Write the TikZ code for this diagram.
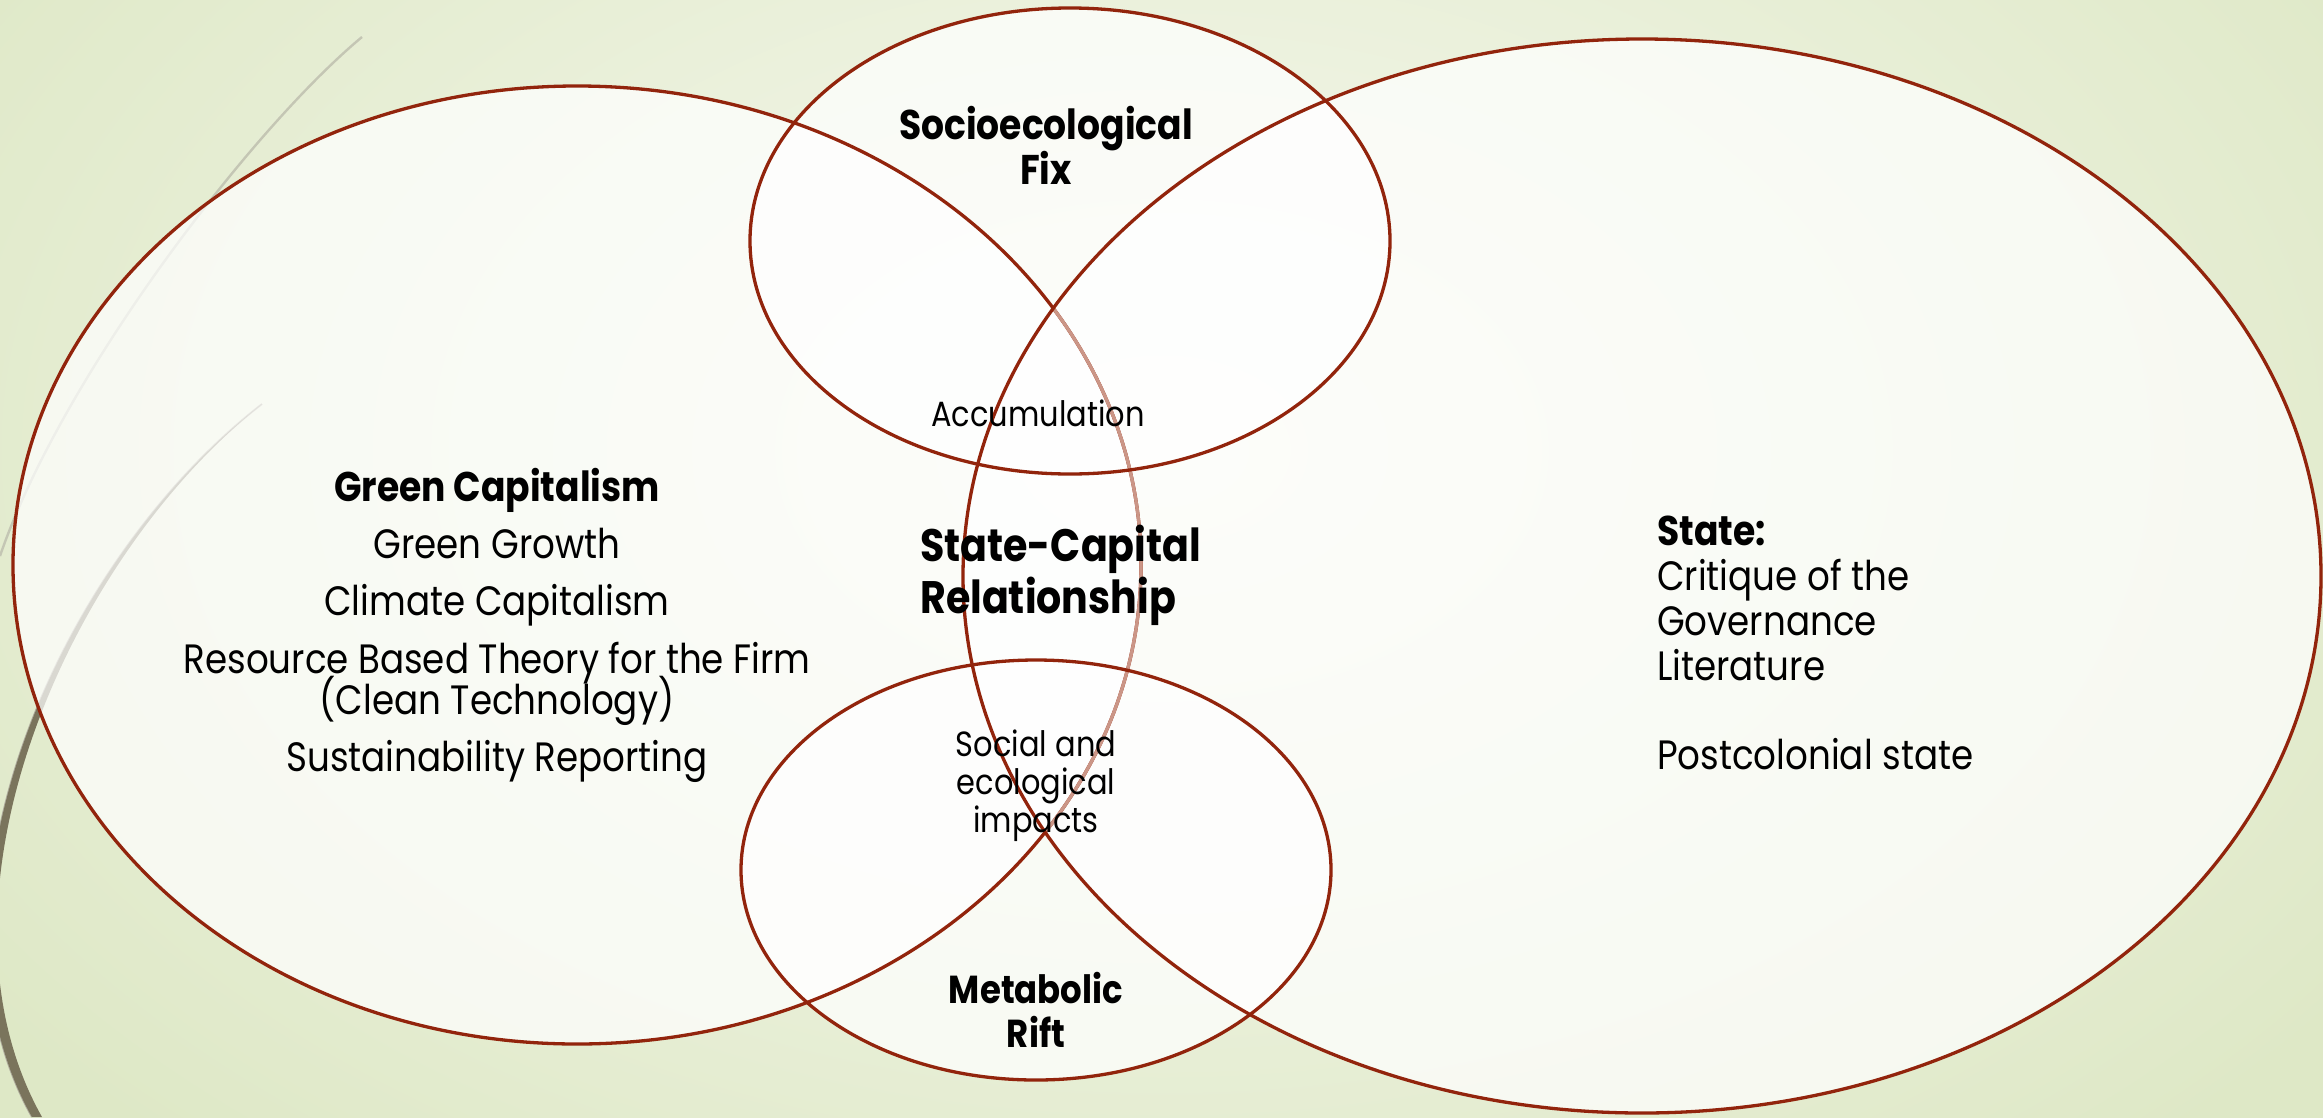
\documentclass[tikz,border=0pt]{standalone}
\usepackage{fontspec}
\setmainfont{Poppins}[FakeStretch=0.87]
\definecolor{edge}{RGB}{146,36,12}
\definecolor{edgelight}{RGB}{203,150,135}
\definecolor{bgin}{RGB}{247,249,240}
\definecolor{bgout}{RGB}{222,232,198}
\definecolor{wispfaint}{RGB}{196,198,180}
\definecolor{wispdark}{RGB}{122,116,92}
\tikzset{
  ring/.style={draw=edge, line width=3.3pt},
  ringfill/.style={fill=white, fill opacity=0.72},
  txt/.style={inner sep=0pt, anchor=base, text=black},
  txtw/.style={inner sep=0pt, anchor=base west, text=black},
  fbig/.style={font=\fontsize{41}{48}\selectfont},
  fmid/.style={font=\fontsize{35}{42}\selectfont},
  fbold/.style={font=\fontsize{41.5}{48}\selectfont\bfseries},
  fboldL/.style={font=\fontsize{45.5}{54}\selectfont\bfseries},
  fboldM/.style={font=\fontsize{39}{46}\selectfont\bfseries},
}
\begin{document}
\begin{tikzpicture}[x=1pt,y=-1pt]
\useasboundingbox (0,0) rectangle (2323,1117);
\clip (0,0) rectangle (2323,1117);
% background
\shade[inner color=bgin, outer color=bgout] (-300,-500) rectangle (2623,1400);
% wisps
\draw[wispfaint, line width=2.4pt] (362,37) .. controls (250,130) and (60,380) .. (0,556);
\draw[wispdark!60!white, line width=1.8pt] (262,404) .. controls (60,560) and (-90,900) .. (32,1117);
\fill[wispdark] (262,404) .. controls (60,560) and (-90,900) .. (32,1117)
   -- (42,1117) .. controls (-80,900) and (64,562) .. (262,404) -- cycle;
% fills
\path[ringfill] (577,565) ellipse [x radius=564pt, y radius=479pt];
\path[ringfill] (1642,576) ellipse [x radius=679pt, y radius=537pt];
\path[ringfill] (1070,241) ellipse [x radius=320pt, y radius=233pt];
\path[ringfill] (1036,870) ellipse [x radius=295pt, y radius=210pt];
% outlines
\draw[ring] (577,565) ellipse [x radius=564pt, y radius=479pt];
\begin{scope}
  \clip (1642,576) ellipse [x radius=679pt, y radius=537pt];
  \draw[ring, draw=edgelight] (577,565) ellipse [x radius=564pt, y radius=479pt];
\end{scope}
\draw[ring] (1642,576) ellipse [x radius=679pt, y radius=537pt];
\draw[ring] (1070,241) ellipse [x radius=320pt, y radius=233pt];
\draw[ring] (1036,870) ellipse [x radius=295pt, y radius=210pt];
% left texts
\node[txt,fbold] (gc) at (497,501) {Green Capitalism};
\node[txt,fbig] (gg) at (497,558.5) {Green Growth};
\node[txt,fbig] (cc) at (497,615.5) {Climate Capitalism};
\node[txt,fbig] (rbt1) at (497,673) {Resource Based Theory for the Firm};
\node[txt,fbig] (rbt2) at (497,714.5) {(Clean Technology)};
\node[txt,fbig] (sr) at (497,771.5) {Sustainability Reporting};
% top
\node[txt,fbold] (sef1) at (1046,139) {Socioecological};
\node[txt,fbold] (sef2) at (1046,184) {Fix};
\node[txt,fmid] (acc) at (1038,426) {Accumulation};
% centre
\node[txtw,fboldL] (scr1) at (920,561) {State-Capital};
\node[txtw,fboldL] (scr2) at (920,613) {Relationship};
% bottom
\node[txt,fmid] (sei1) at (1036,756.5) {Social and};
\node[txt,fmid] (sei2) at (1036,794) {ecological};
\node[txt,fmid] (sei3) at (1036,832) {impacts};
\node[txt,fboldM] (mr1) at (1036,1003) {Metabolic};
\node[txt,fboldM] (mr2) at (1036,1047) {Rift};
% right
\node[txtw,fbold] (st1) at (1657,545) {State:};
\node[txtw,fbig] (st2) at (1657,590) {Critique of the};
\node[txtw,fbig] (st3) at (1657,635.5) {Governance};
\node[txtw,fbig] (st4) at (1657,680) {Literature};
\node[txtw,fbig] (st5) at (1657,769.5) {Postcolonial state};
\end{tikzpicture}
\end{document}
